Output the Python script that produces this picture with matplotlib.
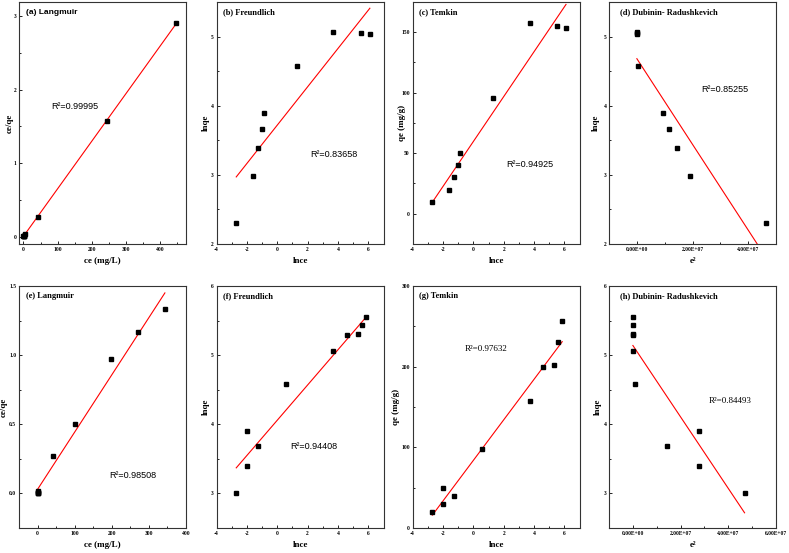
import matplotlib
matplotlib.use("Agg")
import matplotlib.pyplot as plt
from matplotlib.ticker import AutoMinorLocator, FuncFormatter

plt.rcParams["font.family"] = "Liberation Serif"
plt.rcParams["axes.unicode_minus"] = False

# ---- top row data (first adsorbent) ----
lnce_top = [-2.7, -1.6, -1.25, -1.0, -0.85, 1.3, 3.7, 5.5, 6.1]
lnqe_top = [2.3, 2.98, 3.39, 3.67, 3.9, 4.57, 5.07, 5.05, 5.04]
qe_top = [10, 20, 30, 40, 50, 96, 158, 155, 153.5]
ce_top = [0.07, 0.2, 0.29, 0.37, 0.43, 3.7, 42, 245, 447]
ceqe_top = [0.007, 0.01, 0.01, 0.009, 0.009, 0.038, 0.27, 1.57, 2.9]
eps_top = [4.63e7, 1.91e7, 1.45e7, 1.14e7, 0.93e7, 0.024e7, 0, 0, 0]

# ---- bottom row data (second adsorbent) ----
lnce_bot = [-2.7, -2.0, -2.0, -1.3, 0.6, 3.7, 4.6, 5.3, 5.6, 5.85]
lnqe_bot = [3.0, 3.39, 3.91, 3.69, 4.59, 5.06, 5.29, 5.31, 5.44, 5.55]
qe_bot = [20, 30, 50, 40, 98.5, 158, 199, 202, 231, 257]
ce_bot = [0.07, 0.13, 0.13, 0.27, 1.8, 42, 100, 197, 270, 343]
ceqe_bot = [0.004, 0.004, 0.003, 0.007, 0.018, 0.27, 0.505, 0.97, 1.165, 1.335]
eps_bot = [4.68e7, 2.77e7, 2.77e7, 1.45e7, 0.08e7, 0, 0, 0, 0, 0]

# fitted lines (end points)
fit_a = ([0.07, 447], [0.005, 2.9])
fit_b = ([-2.7, 6.1], [2.97, 5.41])
fit_c = ([-2.7, 6.1], [9.6, 173])
fit_d = ([0, 4.63e7], [4.68, 1.81])
fit_e = ([0.07, 343], [0.03, 1.45])
fit_f = ([-2.7, 5.85], [3.37, 5.55])
fit_g = ([-2.7, 5.85], [16, 231])
fit_h = ([0, 4.68e7], [5.14, 2.72])

r2_values = ["0.99995", "0.83658", "0.94925", "0.85255",
             "0.98508", "0.94408", "0.97632", "0.84493"]
titles = ["(a) Langmuir", "(b) Freundlich", "(c) Temkin", "(d) Dubinin- Radushkevich",
          "(e) Langmuir", "(f) Freundlich", "(g) Temkin", "(h) Dubinin- Radushkevich"]

int_fmt = FuncFormatter(lambda v, p: f"{v:g}")
one_fmt = FuncFormatter(lambda v, p: f"{v:.1f}")
sci_fmt = FuncFormatter(lambda v, p: f"{v:.2E}")

panels = [
    dict(x=ce_top, y=ceqe_top, fit=fit_a, xlim=(-13, 475), ylim=(-0.1, 3.19),
         xt=[0, 100, 200, 300, 400], yt=[0, 1, 2, 3], xf=int_fmt, yf=int_fmt,
         xl="ce (mg/L)", yl="ce/qe", r2pos=(0.19, 0.57), tsans=True, r2serif=False, yoff=9),
    dict(x=lnce_top, y=lnqe_top, fit=fit_b, xlim=(-4, 7), ylim=(2, 5.5),
         xt=[-4, -2, 0, 2, 4, 6], yt=[2, 3, 4, 5], xf=int_fmt, yf=int_fmt,
         xl="lnce", yl="lnqe", r2pos=(0.56, 0.37), tsans=False, r2serif=False, yoff=10.5),
    dict(x=lnce_top, y=qe_top, fit=fit_c, xlim=(-4, 7), ylim=(-25, 175),
         xt=[-4, -2, 0, 2, 4, 6], yt=[0, 50, 100, 150], xf=int_fmt, yf=int_fmt,
         xl="lnce", yl="qe (mg/g)", r2pos=(0.56, 0.33), tsans=False, r2serif=False, yoff=11),
    dict(x=eps_top, y=lnqe_top, fit=fit_d, xlim=(-1e7, 5e7), ylim=(2, 5.5),
         xt=[0, 2e7, 4e7], yt=[2, 3, 4, 5], xf=sci_fmt, yf=int_fmt,
         xl="e²", yl="lnqe", r2pos=(0.55, 0.64), tsans=False, r2serif=False, yoff=13),
    dict(x=ce_bot, y=ceqe_bot, fit=fit_e, xlim=(-50, 400), ylim=(-0.25, 1.5),
         xt=[0, 100, 200, 300, 400], yt=[0, 0.5, 1.0, 1.5], xf=int_fmt, yf=one_fmt,
         xl="ce (mg/L)", yl="ce/qe", r2pos=(0.54, 0.215), tsans=False, r2serif=False, yoff=15),
    dict(x=lnce_bot, y=lnqe_bot, fit=fit_f, xlim=(-4, 7), ylim=(2.5, 6),
         xt=[-4, -2, 0, 2, 4, 6], yt=[3, 4, 5, 6], xf=int_fmt, yf=int_fmt,
         xl="lnce", yl="lnqe", r2pos=(0.44, 0.336), tsans=False, r2serif=False, yoff=11),
    dict(x=lnce_bot, y=qe_bot, fit=fit_g, xlim=(-4, 7), ylim=(0, 300),
         xt=[-4, -2, 0, 2, 4, 6], yt=[0, 100, 200, 300], xf=int_fmt, yf=int_fmt,
         xl="lnce", yl="qe (mg/g)", r2pos=(0.31, 0.74), tsans=False, r2serif=True, yoff=16.5),
    dict(x=eps_bot, y=lnqe_bot, fit=fit_h, xlim=(-1e7, 6e7), ylim=(2.5, 6),
         xt=[0, 2e7, 4e7, 6e7], yt=[3, 4, 5, 6], xf=sci_fmt, yf=int_fmt,
         xl="e²", yl="lnqe", r2pos=(0.60, 0.526), tsans=False, r2serif=True, yoff=11),
]

fig = plt.figure(figsize=(7.89, 5.53), dpi=100)
lefts = [0.0241, 0.2744, 0.5230, 0.7719]
bottoms = [0.5588, 0.0452]
w, h = 0.2117, 0.4376
ax_w_px = w * 789

for i, p in enumerate(panels):
    ax = fig.add_axes([lefts[i % 4], bottoms[i // 4], w, h])
    ax.plot(p["fit"][0], p["fit"][1], color="red", lw=0.8, zorder=2)
    ax.plot(p["x"], p["y"], "s", color="black", ms=3, zorder=3)
    ax.set_xlim(p["xlim"])
    ax.set_ylim(p["ylim"])
    ax.set_xticks(p["xt"])
    ax.set_yticks(p["yt"])
    ax.xaxis.set_major_formatter(p["xf"])
    ax.yaxis.set_major_formatter(p["yf"])
    ax.xaxis.set_minor_locator(AutoMinorLocator(2))
    ax.yaxis.set_minor_locator(AutoMinorLocator(2))
    ax.tick_params(which="both", direction="in", width=0.6, labelsize=4, pad=2)
    ax.tick_params(which="major", length=2.2)
    ax.tick_params(which="minor", length=1.4)
    for lab in ax.get_xticklabels() + ax.get_yticklabels():
        lab.set_fontweight("bold")
    for s in ax.spines.values():
        s.set_linewidth(0.8)
        s.set_color("#333333")
    ax.set_xlabel(p["xl"], fontsize=6.5, fontweight="bold", labelpad=4)
    ax.set_ylabel(p["yl"], fontsize=6.5, fontweight="bold")
    ax.yaxis.label.set_verticalalignment("center")
    ax.yaxis.set_label_coords(-p["yoff"] / ax_w_px, 0.5)
    tfam = "Liberation Sans" if p["tsans"] else "Liberation Serif"
    ax.text(0.04 if i % 4 != 3 else 0.066, 0.957, titles[i], transform=ax.transAxes,
            fontsize=6, fontweight="bold", family=tfam, va="center", ha="left")
    rfam = "Liberation Serif" if p["r2serif"] else "Liberation Sans"
    ax.text(p["r2pos"][0], p["r2pos"][1], "R²=" + r2_values[i], transform=ax.transAxes,
            fontsize=6.5, family=rfam, va="center", ha="left")

fig.savefig("out.png", dpi=100)
